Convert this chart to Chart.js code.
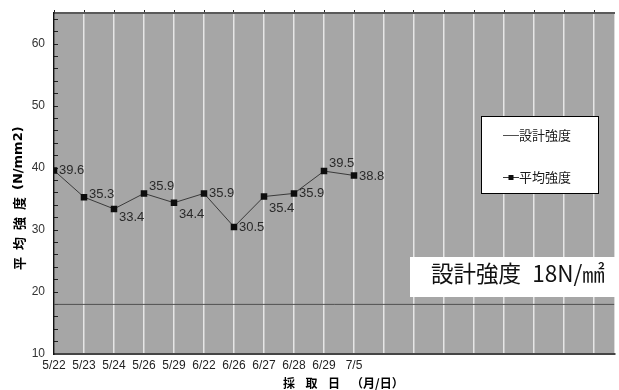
<!DOCTYPE html>
<html lang="ja">
<head>
<meta charset="utf-8">
<title>平均強度</title>
<script src="https://cdn.jsdelivr.net/npm/chart.js@4/dist/chart.umd.min.js"></script>
<style>
  html, body { margin: 0; padding: 0; background: #ffffff; }
  canvas { display: block; }
</style>
</head>
<body>
<canvas id="chart" width="619" height="390"></canvas>
<script>
// Sampling dates and the average strength measured on each of them
const categories = ['5/22', '5/23', '5/24', '5/26', '5/29', '6/22', '6/26', '6/27', '6/28', '6/29', '7/5'];
const avgStrength = [39.6, 35.3, 33.4, 35.9, 34.4, 35.9, 30.5, 35.4, 35.9, 39.5, 38.8];
const designStrength = 18;
const yTickLabels = [10, 20, 30, 40, 50, 60];
// the date axis keeps empty slots after the last sample
const xSpan = 18.68;
// vertical nudge (px) of each value label
const labelNudge = [0, -3, 9, -7, 12, 0, 1, 12, 0, -8, 1];

const CJK = '"Noto Sans CJK JP", "Noto Sans CJK SC", sans-serif';

const decorations = {
  id: 'decorations',
  beforeDraw(chart) {
    const { ctx, chartArea: a } = chart;
    ctx.save();
    ctx.fillStyle = '#a6a6a6';
    ctx.fillRect(a.left, a.top, a.right - a.left, a.bottom - a.top);
    ctx.restore();
  },
  afterDatasetsDraw(chart) {
    const { ctx } = chart;
    const meta = chart.getDatasetMeta(1);

    // value labels beside each average point
    ctx.save();
    ctx.font = '13px "Liberation Sans", Arial, sans-serif';
    ctx.fillStyle = '#2a2a2a';
    ctx.textAlign = 'left';
    ctx.textBaseline = 'middle';
    meta.data.forEach((pt, i) => {
      ctx.fillText(avgStrength[i].toFixed(1), pt.x + 5, pt.y + labelNudge[i]);
    });
    ctx.restore();

    // legend box
    const ds = chart.data.datasets;
    ctx.save();
    ctx.fillStyle = '#ffffff';
    ctx.fillRect(481, 116, 118, 78);
    ctx.strokeStyle = '#000000';
    ctx.lineWidth = 1;
    ctx.strokeRect(481.5, 116.5, 117, 77);
    ctx.font = '13px ' + CJK;
    ctx.textAlign = 'left';
    ctx.textBaseline = 'middle';
    const rows = [135.5, 177.5];
    ds.forEach((d, i) => {
      const y = rows[i];
      ctx.strokeStyle = d.borderColor;
      ctx.lineWidth = 1;
      ctx.beginPath();
      ctx.moveTo(503, y);
      ctx.lineTo(519, y);
      ctx.stroke();
      if (i === 1) {
        ctx.fillStyle = d.pointBackgroundColor;
        ctx.fillRect(508.5, y - 2.5, 5, 5);
      }
      ctx.fillStyle = '#1a1a1a';
      ctx.fillText(d.label, 519, y);
    });
    ctx.restore();

    // design strength note
    ctx.save();
    ctx.fillStyle = '#ffffff';
    ctx.fillRect(410, 257, 208, 40);
    ctx.font = '22.5px ' + CJK;
    ctx.fillStyle = '#111111';
    ctx.textAlign = 'left';
    ctx.textBaseline = 'middle';
    ctx.fillText('設計強度\u2002' + designStrength + 'N/㎟', 431, 273);
    ctx.restore();
  },
  afterDraw(chart) {
    const { ctx } = chart;
    // y axis title
    ctx.save();
    ctx.translate(19, 199);
    ctx.rotate(-Math.PI / 2);
    ctx.fillStyle = '#000000';
    ctx.textAlign = 'left';
    ctx.textBaseline = 'middle';
    ctx.font = 'bold 13px ' + CJK;
    if ('letterSpacing' in ctx) ctx.letterSpacing = '7px';
    ctx.fillText('平均強度', -71, 0);
    if ('letterSpacing' in ctx) ctx.letterSpacing = '0px';
    ctx.font = 'bold 13px "DejaVu Sans", sans-serif';
    ctx.fillText('(N/mm2)', 9, 0);
    ctx.restore();

    // x axis title
    ctx.save();
    ctx.fillStyle = '#000000';
    ctx.textAlign = 'left';
    ctx.textBaseline = 'middle';
    ctx.font = 'bold 12px ' + CJK;
    if ('letterSpacing' in ctx) ctx.letterSpacing = '10.5px';
    ctx.fillText('採取日', 283, 383);
    if ('letterSpacing' in ctx) ctx.letterSpacing = '0px';
    ctx.fillText('（月/日）', 351, 383);
    ctx.restore();
  }
};

function fixBox(size) {
  return (s) => {
    if (s.isHorizontal()) s.height = size; else s.width = size;
    s.paddingTop = 0;
    s.paddingBottom = 0;
    s.paddingLeft = 0;
    s.paddingRight = 0;
  };
}

new Chart(document.getElementById('chart'), {
  type: 'line',
  data: {
    datasets: [
      {
        label: '設計強度',
        data: [{ x: 0, y: designStrength }, { x: xSpan, y: designStrength }],
        borderColor: '#505050',
        borderWidth: 1,
        pointRadius: 0,
        xAxisID: 'x',
        yAxisID: 'y'
      },
      {
        label: '平均強度',
        data: categories.map((c, i) => ({ x: i, y: avgStrength[i] })),
        borderColor: '#3a3a3a',
        borderWidth: 1,
        pointStyle: 'rect',
        pointRadius: 4.6,
        pointBorderWidth: 0,
        pointBackgroundColor: '#0d0d0d',
        pointBorderColor: '#0d0d0d',
        xAxisID: 'x',
        yAxisID: 'y'
      }
    ]
  },
  options: {
    responsive: false,
    animation: false,
    devicePixelRatio: 1,
    layout: { padding: 0 },
    plugins: {
      legend: { display: false },
      tooltip: { enabled: false }
    },
    scales: {
      x: {
        type: 'linear',
        position: 'bottom',
        min: 0,
        max: xSpan,
        afterFit: fixBox(36),
        ticks: {
          stepSize: 1,
          autoSkip: false,
          includeBounds: false,
          maxRotation: 0,
          minRotation: 0,
          padding: 4,
          color: '#222222',
          font: { family: '"Liberation Sans", Arial, sans-serif', size: 12 },
          callback: (v) => categories[v] ?? ''
        },
        grid: {
          color: '#e6e6e6',
          lineWidth: 1.5,
          drawTicks: false
        },
        border: { display: true, color: '#454545', width: 2 }
      },
      xTop: {
        type: 'linear',
        position: 'top',
        min: 0,
        max: xSpan,
        afterFit: fixBox(13),
        ticks: {
          stepSize: 1,
          autoSkip: false,
          includeBounds: false,
          callback: () => ''
        },
        grid: {
          drawOnChartArea: false,
          drawTicks: true,
          tickLength: 3,
          color: '#222222',
          lineWidth: 1
        },
        border: { display: true, color: '#5a5a5a', width: 2 }
      },
      y: {
        type: 'linear',
        position: 'left',
        min: 10,
        max: 65,
        afterFit: fixBox(54),
        ticks: {
          stepSize: 2,
          autoSkip: false,
          includeBounds: false,
          padding: 13,
          color: '#333333',
          font: { family: '"Liberation Sans", Arial, sans-serif', size: 12 },
          callback: (v) => (yTickLabels.includes(v) ? String(v) : '')
        },
        grid: {
          drawOnChartArea: false,
          drawTicks: true,
          tickLength: -4,
          color: '#222222',
          lineWidth: 1
        },
        border: { display: true, color: '#111111', width: 1.5 }
      }
    }
  },
  plugins: [decorations]
});
</script>
</body>
</html>
